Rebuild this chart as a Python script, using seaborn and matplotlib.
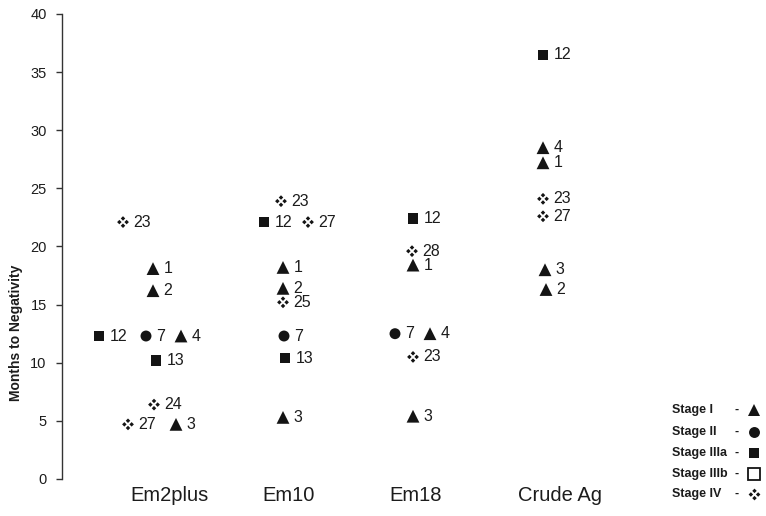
import matplotlib
matplotlib.use("Agg")
import matplotlib.pyplot as plt
import numpy as np
import pandas as pd
import seaborn as sns
from matplotlib.path import Path
from matplotlib.lines import Line2D

# ---- data -------------------------------------------------------------
antigens = ["Em2plus", "Em10", "Em18", "Crude Ag"]

em2plus_patients = [23, 1, 2, 12, 7, 4, 13, 24, 27, 3]
em2plus_months = [22.1, 18.1, 16.2, 12.3, 12.3, 12.3, 10.2, 6.4, 4.7, 4.7]

em10_patients = [23, 12, 27, 1, 2, 25, 7, 13, 3]
em10_months = [23.9, 22.1, 22.1, 18.2, 16.4, 15.2, 12.3, 10.4, 5.3]

em18_patients = [12, 28, 1, 7, 4, 23, 3]
em18_months = [22.4, 19.6, 18.4, 12.5, 12.5, 10.5, 5.4]

crude_patients = [12, 4, 1, 23, 27, 3, 2]
crude_months = [36.5, 28.5, 27.2, 24.1, 22.6, 18.0, 16.3]

stages = ["Stage I", "Stage II", "Stage IIIa", "Stage IIIb", "Stage IV"]
patient_stage = {
    1: "Stage I", 2: "Stage I", 3: "Stage I", 4: "Stage I",
    7: "Stage II",
    12: "Stage IIIa", 13: "Stage IIIa",
    23: "Stage IV", 24: "Stage IV", 25: "Stage IV", 27: "Stage IV", 28: "Stage IV",
}

# ---- layout: sideways nudges (px) so tied points don't overlap --------
COLUMN_PITCH = 130.0
em2plus_nudge = [-30, 0, 0, -54, -7, 28, 3, 1, -25, 23]
em10_nudge = [-2, -19, 25, 0, 0, 0, 1, 2, 0]
em18_nudge = [0, -1, 0, -18, 17, 0, 0]
crude_nudge = [0, 0, 0, 0, 0, 2, 3]
label_nudge = [17, 6, 3, 17]

groups = [
    (em2plus_patients, em2plus_months, em2plus_nudge),
    (em10_patients, em10_months, em10_nudge),
    (em18_patients, em18_months, em18_nudge),
    (crude_patients, crude_months, crude_nudge),
]
rows = []
for i, (pats, months, nudge) in enumerate(groups):
    for p, m, n in zip(pats, months, nudge):
        rows.append({"antigen": antigens[i], "x": i + n / COLUMN_PITCH,
                     "months": m, "patient": p, "stage": patient_stage[p]})
df = pd.DataFrame(rows)


def clover_marker():
    """Four small diamonds arranged around an empty centre."""
    verts, codes = [], []
    r = 0.62
    for cx, cy in [(0, 1), (1, 0), (0, -1), (-1, 0)]:
        verts += [(cx, cy + r), (cx + r, cy), (cx, cy - r), (cx - r, cy), (cx, cy + r)]
        codes += [Path.MOVETO, Path.LINETO, Path.LINETO, Path.LINETO, Path.CLOSEPOLY]
    return Path(verts, codes)


INK = "#141414"
TEXT = "#1c1c1c"
marker_map = {"Stage I": "^", "Stage II": "o", "Stage IIIa": "s",
              "Stage IIIb": "s", "Stage IV": clover_marker()}
size_map = {"Stage I": 85, "Stage II": 62, "Stage IIIa": 55,
            "Stage IIIb": 55, "Stage IV": 72}

# ---- figure -----------------------------------------------------------
sns.set_style("white")
plt.rcParams["font.family"] = ["Liberation Sans", "DejaVu Sans"]

W, H = 766, 516
fig = plt.figure(figsize=(W / 100, H / 100), dpi=100)
ax = fig.add_axes([62 / W, 37 / H, (650 - 62) / W, 465 / H])

present = [s for s in stages if s in set(df["stage"])]
sns.scatterplot(data=df, x="x", y="months", style="stage", style_order=present,
                markers=marker_map, size="stage", size_order=present, sizes=size_map,
                color=INK, edgecolor="none", linewidth=0, legend=False,
                clip_on=False, ax=ax)

for _, r in df.iterrows():
    ax.annotate(str(r["patient"]), (r["x"], r["months"]), xytext=(7.5, 0),
                textcoords="offset points", ha="left", va="center",
                fontsize=11.5, color=TEXT)

ax.set_xlim(-(153 - 62) / COLUMN_PITCH, (650 - 153) / COLUMN_PITCH)
ax.set_ylim(0, 40)
ax.set_yticks(range(0, 41, 5))
ax.set_xticks([i + s / COLUMN_PITCH for i, s in enumerate(label_nudge)])
ax.set_xticklabels(antigens, fontsize=14.5, color=TEXT)
ax.tick_params(axis="x", length=0, pad=5)
ax.tick_params(axis="y", length=4, width=1, color="#333333", labelsize=10.5,
               labelcolor=TEXT, pad=7, left=True, direction="out")
ax.set_xlabel("")
ax.set_ylabel("")
for side in ["top", "right", "bottom"]:
    ax.spines[side].set_visible(False)
ax.spines["left"].set_color("#333333")
ax.spines["left"].set_linewidth(1)

fig.text(16 / W, 1 - 333 / H, "Months to Negativity", rotation=90,
         ha="center", va="center", fontsize=10, fontweight="bold", color=TEXT)

# ---- stage key --------------------------------------------------------
key_y = [410, 432, 453, 474, 494]
for stage, yy in zip(stages, key_y):
    fy = 1 - yy / H
    fig.text(672 / W, fy, stage, ha="left", va="center", fontsize=9,
             fontweight="bold", color=TEXT)
    fig.text(737 / W, fy, "-", ha="center", va="center", fontsize=9,
             fontweight="bold", color=TEXT)
    hollow = stage == "Stage IIIb"
    ms = np.sqrt(size_map[stage]) * (1.2 if hollow else 1.0)
    fig.add_artist(Line2D([754 / W], [fy], transform=fig.transFigure,
                          marker=marker_map[stage], markersize=ms,
                          markerfacecolor="none" if hollow else INK,
                          markeredgecolor=INK, markeredgewidth=1.3 if hollow else 0,
                          linestyle="none"))

fig.savefig("out.png", dpi=100, facecolor="white")
